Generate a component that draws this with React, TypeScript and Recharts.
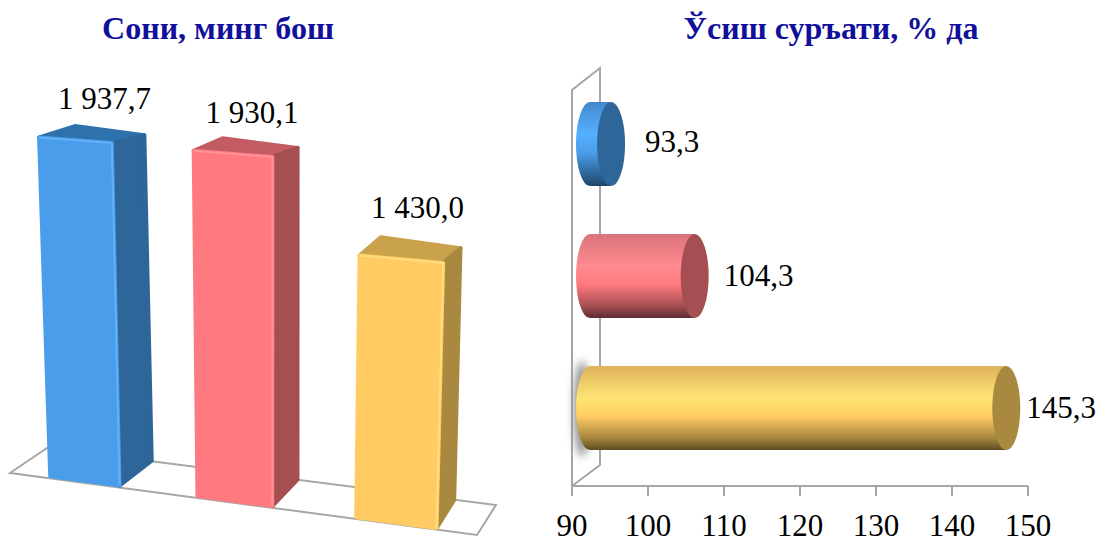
import React from "react";
import { BarChart, Bar, XAxis, YAxis, LabelList } from "recharts";

const categories = ["A", "B", "C"];
const countValues = [1937.7, 1930.1, 1430.0];
const growthValues = [93.3, 104.3, 145.3];
const growthTicks = [90, 100, 110, 120, 130, 140, 150];

const countData = categories.map((name, i) => ({ name, value: countValues[i] }));
const growthData = categories.map((name, i) => ({ name, value: growthValues[i] }));

const FRONT = ["#4a9deb", "#ff7a80", "#ffcb62"];
const EDGE = ["#62b0f5", "#ff9398", "#ffdc80"];
const SIDE = ["#2f6699", "#a64f52", "#a98840"];
const TOP = ["#2f72ad", "#c25c62", "#c9a24c"];
const STOPS = [
  ["#4289cc", "#55b0ff", "#4a9deb", "#2f6699", "#1d4468"],
  ["#d9747a", "#ff8a90", "#ff7a80", "#a64f52", "#5c2c30"],
  ["#deb35c", "#ffe473", "#ffcb62", "#a98840", "#5f4c22"],
];

const FONT = "'Liberation Serif', serif";
const GRAY = "#a6a6a6";

// left chart: plot coordinates -> tilted picture plane
const PLOT_LEFT = 7;
const PLOT_RIGHT = 469;
const PLOT_TOP = 140;
const PLOT_BOTTOM = 500;

const project = (p: number, py: number) => {
  const t = (p - 238) / 154;
  const s = 234.5 + 155.75 * t + 5.75 * t * t;
  const h = (PLOT_BOTTOM - py) * (1 + (s - 240) * 0.00015);
  return {
    x: s + (s - 270) * 0.00015 * h,
    y: 476 + (s - 48) * 0.134 - h,
    s,
    h,
  };
};

const depth = (pt: { x: number; s: number; h: number }) => ({
  dx: 36 - (pt.x - 37) * 0.046,
  dy: -(25 + (pt.s - 120) * 0.01) + 0.05 * pt.h,
});

const pts = (list: { x: number; y: number }[]) => list.map((q) => `${q.x},${q.y}`).join(" ");

const Box = ({ x, y, width, height, index }: any) => {
  const bl = project(x, y + height);
  const br = project(x + width, y + height);
  const tl = project(x, y);
  const tr = project(x + width, y);
  const dtl = depth(tl);
  const dtr = depth(tr);
  const dbr = depth(br);
  const btl = { x: tl.x + dtl.dx, y: tl.y + dtl.dy - 4 };
  const btr = { x: tr.x + dtr.dx, y: tr.y + dtr.dy };
  const bbr = { x: br.x + dbr.dx, y: br.y + dbr.dy };
  return (
    <g strokeLinejoin="round" strokeWidth={4} filter="url(#edgeSoft)">
      <polygon points={pts([tl, tr, btr, btl])} fill={TOP[index]} stroke={TOP[index]} />
      <polygon points={pts([tr, btr, bbr, br])} fill={SIDE[index]} stroke={SIDE[index]} />
      <polygon points={pts([tl, tr, br, bl])} fill={FRONT[index]} stroke={FRONT[index]} />
      <polyline points={pts([tl, tr, br])} fill="none" stroke={EDGE[index]} strokeWidth={2} />
    </g>
  );
};

const fmtCount = (v: number) => {
  const [whole, dec] = v.toFixed(1).split(".");
  return `${whole[0]} ${whole.slice(1)},${dec}`;
};

// labels were placed by hand in the original
const LABEL_SHIFT = [29, 19, 16];
const LABEL_RAISE = [28, 28, 37];

const CountLabel = ({ x, y, width, value, index }: any) => {
  const tl = project(x, y);
  const tr = project(x + width, y);
  return (
    <text
      x={(tl.x + tr.x) / 2 + LABEL_SHIFT[index]}
      y={tl.y - LABEL_RAISE[index]}
      textAnchor="middle"
      fontFamily={FONT}
      fontSize={31}
      fill="#000"
    >
      {fmtCount(value)}
    </text>
  );
};

// right chart: cylinders sit one step back from the axis plane
const DEPTH_X = 14;
const DEPTH_Y = -12;
const CAP_RX = 14;

const Cylinder = ({ x, y, width, height, index }: any) => {
  const cy = y + height / 2 + DEPTH_Y;
  const ry = height / 2;
  const left = x + DEPTH_X + 4;
  const right = x + width + DEPTH_X;
  const body = `M${left},${cy - ry} L${right},${cy - ry} L${right},${cy + ry} L${left},${cy + ry} A${CAP_RX},${ry} 0 0 1 ${left},${cy - ry} Z`;
  return (
    <g>
      <path d={body} fill={`url(#cyl${index})`} />
      <ellipse cx={right} cy={cy} rx={CAP_RX} ry={ry} fill={SIDE[index]} />
    </g>
  );
};

const LABEL_GAP = [48, 43, 34];
const LABEL_DROP = [8, 10, 10];

const GrowthLabel = ({ x, y, width, height, value, index }: any) => (
  <text
    x={x + width + LABEL_GAP[index]}
    y={y + height / 2 + DEPTH_Y + LABEL_DROP[index]}
    fontFamily={FONT}
    fontSize={31}
    fill="#000"
  >
    {value.toFixed(1).replace(".", ",")}
  </text>
);

const Title = ({ x, children }: any) => (
  <text
    x={x}
    y={39}
    textAnchor="middle"
    fontFamily={FONT}
    fontSize={32}
    fontWeight="bold"
    fill="#10109c"
  >
    {children}
  </text>
);

export default function App() {
  return (
    <div style={{ position: "absolute", left: 0, top: 0, width: 1100, height: 537, background: "#fff", overflow: "hidden" }}>
      <div style={{ position: "absolute", left: 0, top: 0 }}>
        <BarChart
          width={540}
          height={537}
          data={countData}
          barCategoryGap="26%"
          margin={{ top: PLOT_TOP, bottom: 537 - PLOT_BOTTOM, left: PLOT_LEFT, right: 540 - PLOT_RIGHT }}
        >
          <defs>
            <filter id="edgeSoft" x="-5%" y="-5%" width="110%" height="110%">
              <feGaussianBlur stdDeviation="0.7" />
            </filter>
          </defs>
          <XAxis dataKey="name" hide />
          <YAxis domain={[0, 2000]} hide />
          <Title x={218}>Сони, минг бош</Title>
          <polygon points="10,473 477,535 496,505 47,448" fill="none" stroke={GRAY} strokeWidth={2} />
          <Bar dataKey="value" isAnimationActive={false} shape={(p: any) => <Box {...p} />}>
            <LabelList dataKey="value" content={(p: any) => <CountLabel {...p} />} />
          </Bar>
        </BarChart>
      </div>
      <div style={{ position: "absolute", left: 540, top: 0 }}>
        <BarChart
          width={560}
          height={537}
          layout="vertical"
          data={growthData}
          barCategoryGap="18.25%"
          margin={{ top: 90, bottom: 0, left: 32, right: 72 }}
        >
          <defs>
            {STOPS.map((s, i) => (
              <linearGradient key={i} id={`cyl${i}`} x1="0" y1="0" x2="0" y2="1">
                <stop offset="0%" stopColor={s[0]} />
                <stop offset="38%" stopColor={s[1]} />
                <stop offset="60%" stopColor={s[2]} />
                <stop offset="85%" stopColor={s[3]} />
                <stop offset="100%" stopColor={s[4]} />
              </linearGradient>
            ))}
            <filter id="soft" x="-100%" y="-20%" width="300%" height="140%">
              <feGaussianBlur stdDeviation="4" />
            </filter>
          </defs>
          <Title x={291}>Ўсиш суръати, % да</Title>
          <polyline points="32,486 32,90 60,68 60,465 32,486" fill="none" stroke={GRAY} strokeWidth={2} />
          <ellipse cx={42} cy={409} rx={8} ry={48} fill="#8c8c8c" filter="url(#soft)" />
          <XAxis
            type="number"
            domain={[90, 150]}
            ticks={growthTicks}
            interval={0}
            height={51}
            tickSize={10}
            tickMargin={18}
            tick={{ fill: "#000", fontFamily: FONT, fontSize: 31 }}
            axisLine={{ stroke: GRAY, strokeWidth: 2 }}
            tickLine={{ stroke: GRAY, strokeWidth: 2 }}
          />
          <YAxis type="category" dataKey="name" hide />
          <Bar dataKey="value" isAnimationActive={false} shape={(p: any) => <Cylinder {...p} />}>
            <LabelList dataKey="value" content={(p: any) => <GrowthLabel {...p} />} />
          </Bar>
        </BarChart>
      </div>
    </div>
  );
}
